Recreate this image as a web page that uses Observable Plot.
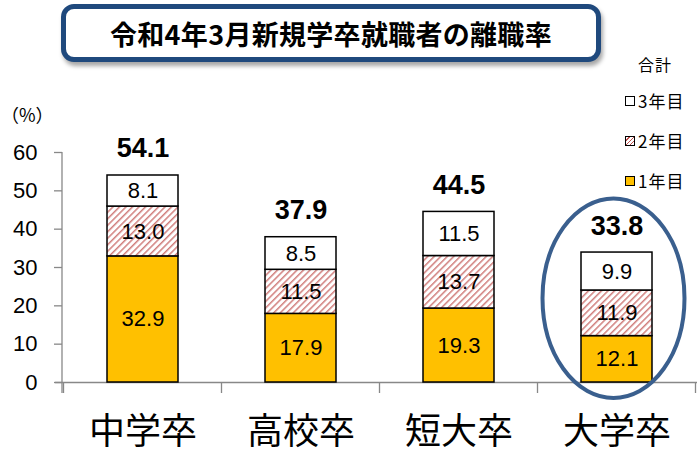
<!DOCTYPE html>
<html>
<head>
<meta charset="utf-8">
<script src="https://cdn.jsdelivr.net/npm/d3@7"></script>
<script src="https://cdn.jsdelivr.net/npm/@observablehq/plot@0.6"></script>
<style>
  body { margin: 0; background: #fff; }
  #wrap { position: relative; width: 700px; height: 457px; overflow: hidden; background: #fff;
          font-family: "Noto Sans CJK JP", sans-serif; color: #000; }
  #chart { position: absolute; left: 0; top: 0; }
  #title { position: absolute; left: 61px; top: 4px; width: 530px; height: 48px;
           border: 5px solid #1F497D; border-radius: 13px; background: #fff;
           box-shadow: 2px 4px 4px rgba(0,0,0,0.35);
           display: flex; align-items: center; justify-content: center;
           font-weight: bold; font-size: 27px; letter-spacing: 0.3px; }
  #unit { position: absolute; left: 1px; top: 102px; font-size: 18px; font-family: "Noto Sans CJK JP", sans-serif; line-height: 24px; white-space: nowrap; }
  #legend { position: absolute; left: 622px; top: 52px; width: 78px; font-size: 16px; }
  #legend .head { position: absolute; left: 16px; top: 0px; letter-spacing: 1px; }
  #legend .item { position: absolute; left: 3px; display: flex; align-items: center; letter-spacing: 1px; font-size: 17px; }
  #legend .sw { width: 8px; height: 8px; border: 1.2px solid #000; margin-right: 3px; }
</style>
</head>
<body>
<div id="wrap">
  <div id="chart"></div>
  <div id="title"></div>
  <div id="unit"></div>
  <div id="legend"></div>
</div>
<script>
// ---- data ----
const chartTitle = "令和4年3月新規学卒就職者の離職率";
const unitLabel = "（%）";
const legendTitle = "合計";
const categories = ["中学卒", "高校卒", "短大卒", "大学卒"];
const series = ["1年目", "2年目", "3年目"];
const year1 = [32.9, 17.9, 19.3, 12.1];
const year2 = [13.0, 11.5, 13.7, 11.9];
const year3 = [8.1, 8.5, 11.5, 9.9];
const totals = [54.1, 37.9, 44.5, 33.8];
const yTicks = [0, 10, 20, 30, 40, 50, 60];
const highlight = "大学卒";

// ---- build tables ----
const seriesValues = [year1, year2, year3];
const rows = [];
categories.forEach((c, i) => {
  series.forEach((s, k) => rows.push({cat: c, s, v: seriesValues[k][i]}));
});
const totalRows = categories.map((c, i) => ({cat: c, v: totals[i]}));

const colors = {"1年目": "#FFC000", "2年目": "url(#hatch)", "3年目": "#FFFFFF"};

// decorations: hatch defs, axis line, category ticks
function decorations(index, scales, values, dimensions) {
  const x = scales.x, y = scales.y;
  const g = d3.create("svg:g");
  const defs = g.append("defs");
  const p = defs.append("pattern").attr("id", "hatch")
    .attr("patternUnits", "userSpaceOnUse").attr("width", 4.6).attr("height", 4.6)
    .attr("patternTransform", "rotate(45)");
  p.append("rect").attr("width", 4.6).attr("height", 4.6).attr("fill", "#fff");
  p.append("line").attr("x1", 0.8).attr("y1", 0).attr("x2", 0.8).attr("y2", 4.6)
    .attr("stroke", "#C0504D").attr("stroke-width", 1.1);
  const y0 = y(0);
  // y axis line
  g.append("line").attr("x1", dimensions.marginLeft).attr("x2", dimensions.marginLeft)
    .attr("y1", y(yTicks[yTicks.length - 1])).attr("y2", y0 + 11)
    .attr("stroke", "#888").attr("stroke-width", 1.3);
  // category boundary ticks
  const step = x.step(), bw = x.bandwidth();
  const start = x(categories[0]) - (step - bw) / 2;
  for (let i = 0; i <= categories.length; i++) {
    const bx = start + i * step;
    g.append("line").attr("x1", bx).attr("x2", bx).attr("y1", y0).attr("y2", y0 + 11)
      .attr("stroke", "#888").attr("stroke-width", 1.3);
  }
  return g.node();
}

function highlightEllipse(index, scales, values, dimensions) {
  const x = scales.x, y = scales.y;
  const i = categories.indexOf(highlight);
  const cx = x(highlight) + x.bandwidth() / 2 - 3;
  const top = y(totals[i]) - 54, bottom = y(0) + 16;
  return d3.create("svg:ellipse")
    .attr("cx", cx).attr("cy", (top + bottom) / 2)
    .attr("rx", x.bandwidth()).attr("ry", (bottom - top) / 2)
    .attr("fill", "none").attr("stroke", "#3A5F8E").attr("stroke-width", 4)
    .node();
}

const chart = Plot.plot({
  width: 700,
  height: 457,
  marginLeft: 62,
  marginRight: 3,
  marginTop: 152,
  marginBottom: 75,
  style: {fontFamily: "'Liberation Sans', 'Noto Sans CJK JP', sans-serif", color: "#000", background: "transparent", overflow: "visible"},
  x: {domain: categories, paddingInner: 0.553, paddingOuter: 0.2765},
  y: {domain: [0, 60]},
  color: {domain: series, range: series.map(s => colors[s])},
  marks: [
    decorations,
    Plot.ruleY([0], {stroke: "#888", strokeWidth: 1.3, insetLeft: -7}),
    Plot.axisY({ticks: yTicks, tickSize: 8, tickPadding: 17, fontSize: 22, label: null, stroke: "#888", strokeWidth: 1.3}),
    Plot.axisX({tickSize: 0, tickPadding: 36, fontSize: 36, label: null, fontFamily: "'Noto Sans CJK JP', sans-serif"}),
    Plot.barY(rows, {x: "cat", y: "v", fill: "s", stroke: "#000", strokeWidth: 1.5}),
    Plot.text(rows, Plot.stackY({x: "cat", y: "v", text: d => d.v.toFixed(1), fontSize: 22, fill: "#000"})),
    Plot.text(totalRows, {x: "cat", y: "v", text: d => d.v.toFixed(1), dy: -27, fontSize: 27, fontWeight: "bold", fill: "#000"}),
    highlightEllipse
  ]
});
document.getElementById("chart").appendChild(chart);

// ---- html overlays ----
document.getElementById("title").textContent = chartTitle;
document.getElementById("unit").textContent = unitLabel;
const legend = document.getElementById("legend");
const head = document.createElement("div");
head.className = "head"; head.textContent = legendTitle;
legend.appendChild(head);
const legendOrder = series.slice().reverse();
legendOrder.forEach((s, k) => {
  const it = document.createElement("div");
  it.className = "item";
  it.style.top = (36 + k * 40) + "px";
  const sw = document.createElement("div");
  sw.className = "sw";
  sw.style.background = s === "2年目"
    ? "repeating-linear-gradient(135deg, #fff 0 2px, #C0504D 2px 3px)"
    : colors[s];
  it.appendChild(sw);
  const t = document.createElement("span");
  t.textContent = s;
  it.appendChild(t);
  legend.appendChild(it);
});
</script>
</body>
</html>
